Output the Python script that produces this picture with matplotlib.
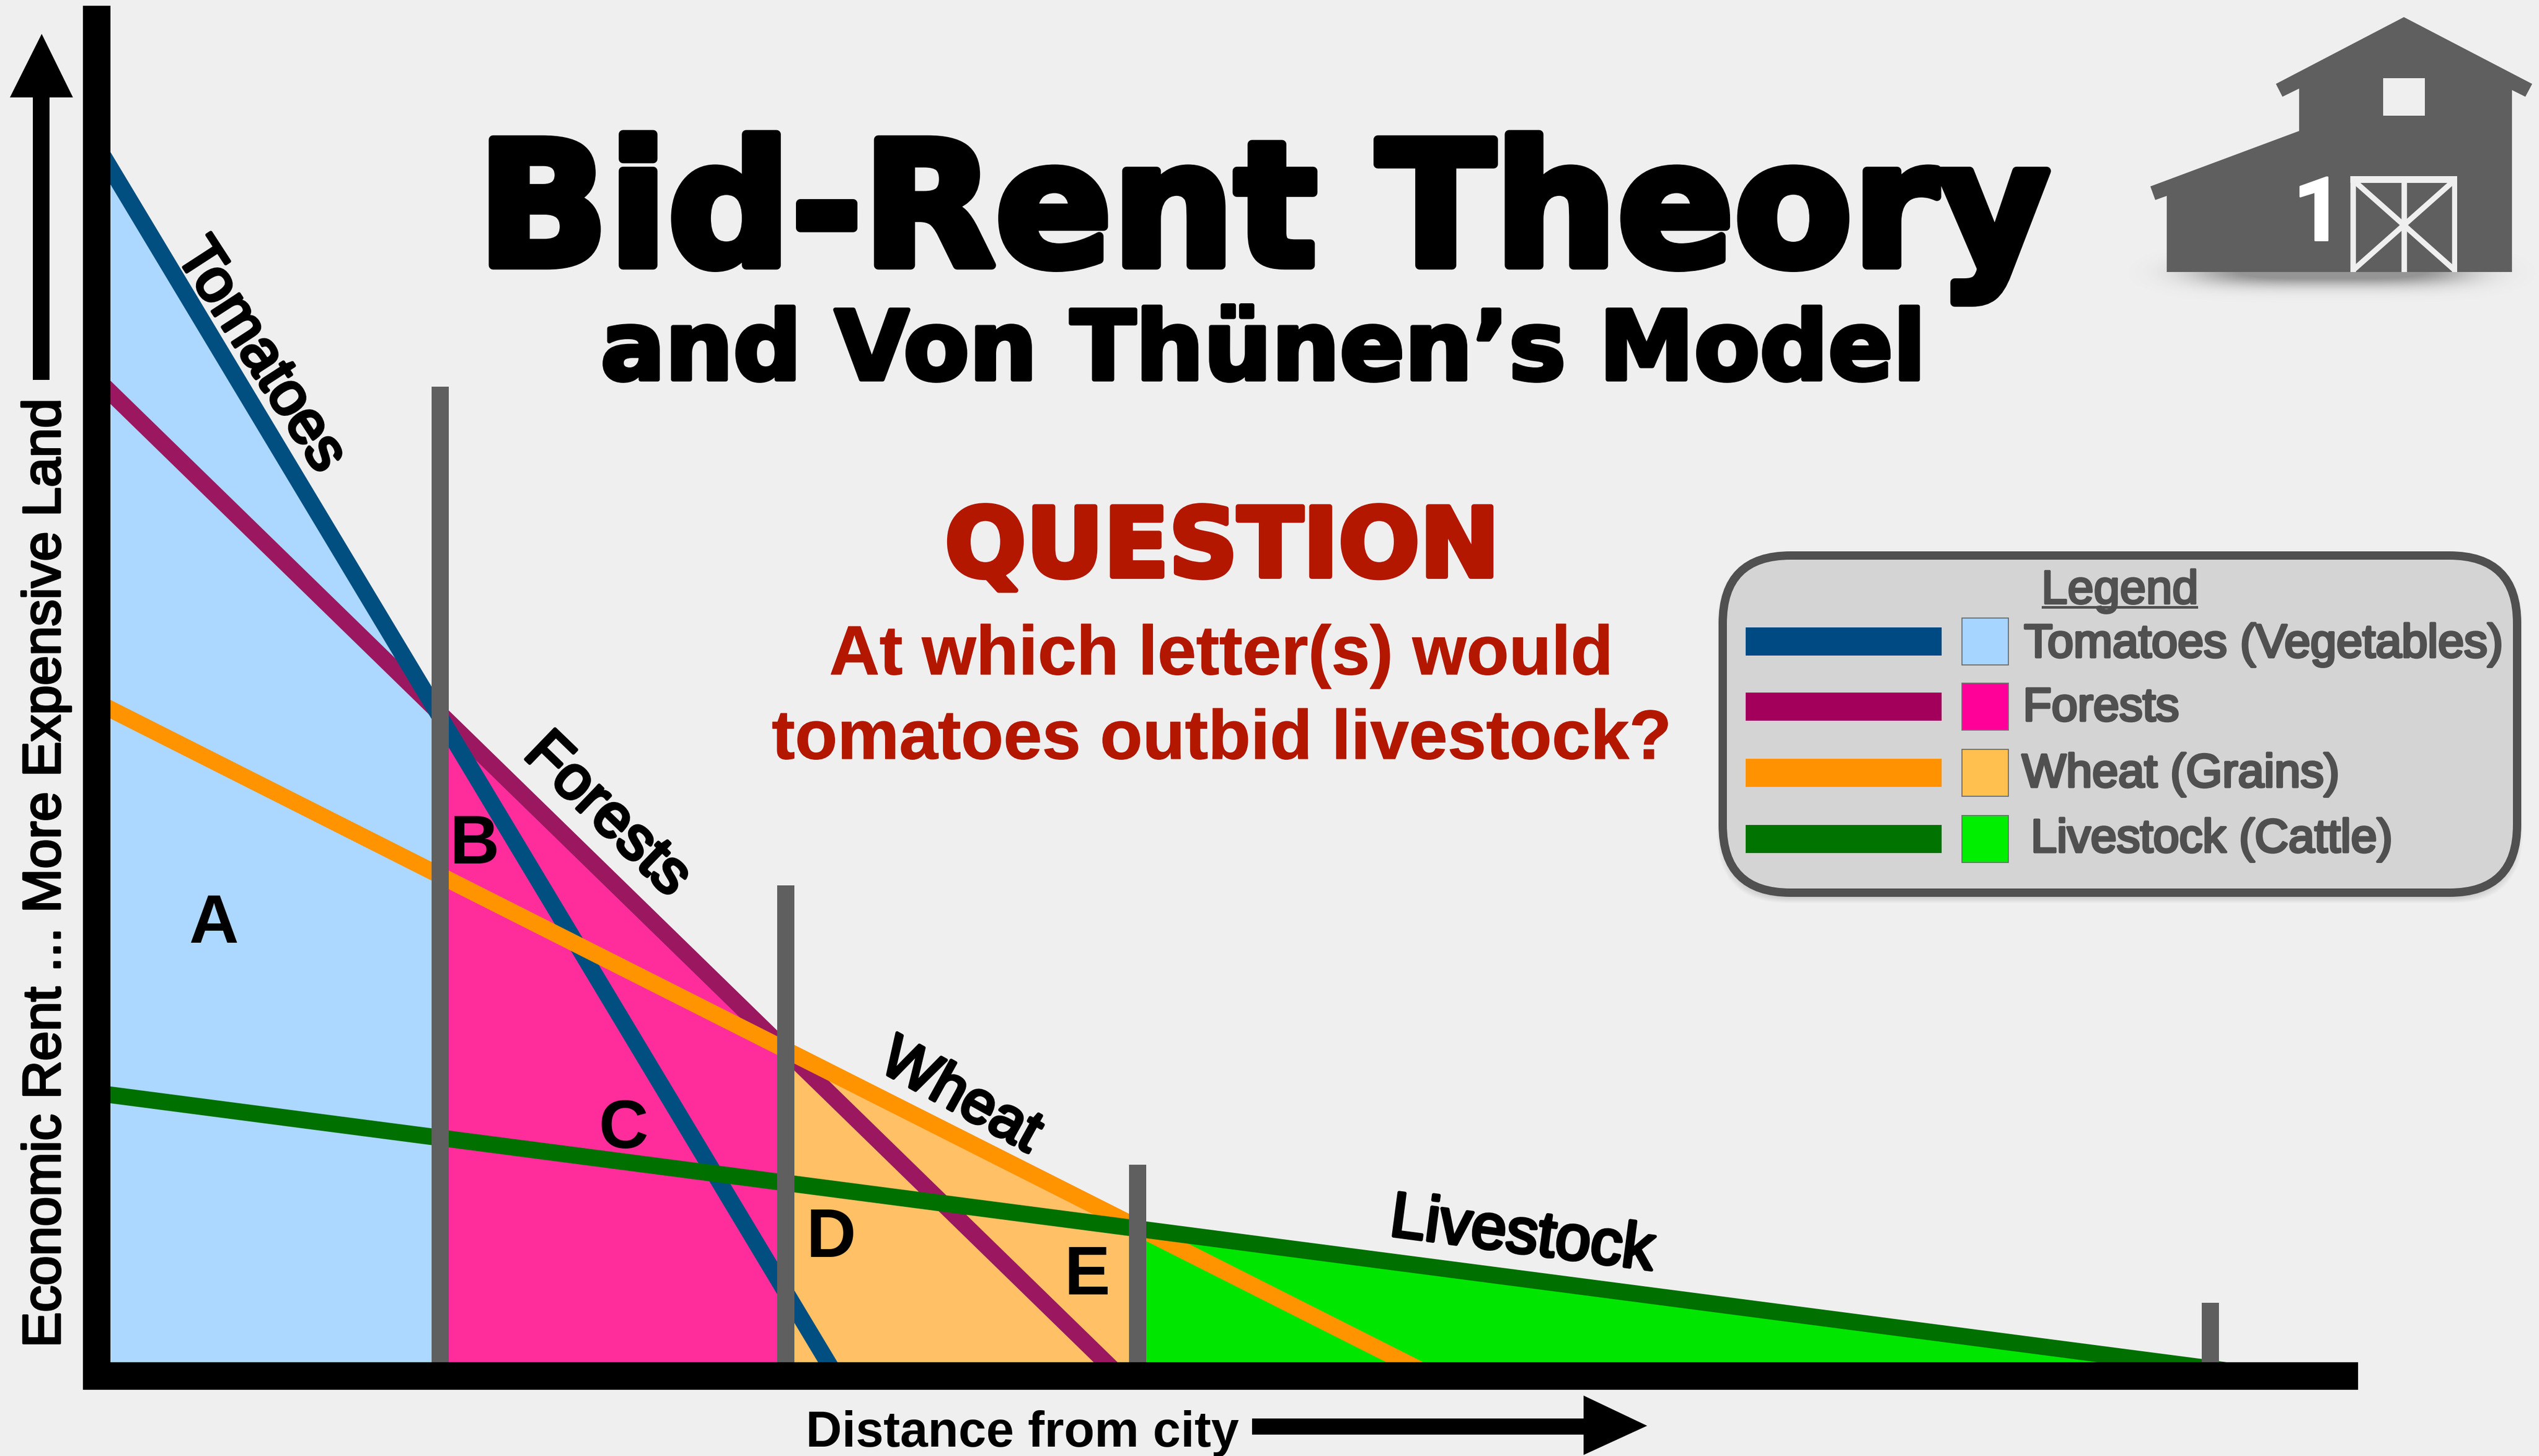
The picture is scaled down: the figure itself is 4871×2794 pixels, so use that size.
import numpy as np
import matplotlib
matplotlib.use("Agg")
import matplotlib.pyplot as plt
import matplotlib.patheffects as pe
from matplotlib.patches import FancyBboxPatch, Rectangle, Polygon

# ---------- data (distance and rent in chart units) ----------
crops = ["Tomatoes", "Forests", "Wheat", "Livestock"]
rent_at_city = [2291, 1861, 1253, 513]
zero_rent_distance = [1376, 1909, 2483, 3936]
zone_edges = [0, 623, 1296, 1971, 3936]
marker_distance = [633, 1296, 1971, 4029]
marker_height = [1872, 915, 379, 114]
legend_labels = ["Tomatoes (Vegetables)", "Forests", "Wheat (Grains)", "Livestock (Cattle)"]
letters = ["A", "B", "C", "D", "E"]

line_colors = ["#004f80", "#9b1860", "#ff9300", "#007000"]
zone_colors = ["#acd7ff", "#ff2d9c", "#ffc066", "#00e600"]
legend_line_colors = ["#004a84", "#a3005c", "#ff9200", "#007300"]
legend_swatch_colors = ["#a6d5ff", "#ff0099", "#ffc04f", "#00ee00"]
BG = "#efefef"
GREY = "#5f5f5f"
RED = "#b31700"
LEG = "#505050"

W, H = 4871, 2794
fig = plt.figure(figsize=(W / 100, H / 100), dpi=100, facecolor=BG)
ax = fig.add_axes([0, 0, 1, 1])
ax.set_xlim(-212, W - 212)
ax.set_ylim(-(H - 2614), 2614)
ax.axis("off")


def rent(i, x):
    return rent_at_city[i] * (1 - np.asarray(x, float) / zero_rent_distance[i])


# zones: each takes the highest bidder on its stretch of distance
for i in range(4):
    xs = np.array(zone_edges[i:i + 2], float)
    ax.fill_between(xs, 0, rent(i, xs), color=zone_colors[i], lw=0, zorder=1)

# bid-rent lines, in the reference's stacking order
for z, i in enumerate([1, 0, 2, 3]):
    slope = rent_at_city[i] / zero_rent_distance[i]
    xs = np.array([-30, zero_rent_distance[i] + 30 / slope])
    ax.plot(xs, rent(i, xs), color=line_colors[i], lw=32 * 0.72,
            solid_capstyle="butt", zorder=2 + z)

ax.bar(marker_distance, marker_height, width=33, bottom=0, color=GREY, lw=0, zorder=8)

# ---------- decoration layer in image pixels ----------
d = fig.add_axes([0, 0, 1, 1])
d.patch.set_alpha(0)
d.axis("off")


def stroke(w, c):
    return [pe.withStroke(linewidth=w, foreground=c)]


SANS = "Liberation Sans"
HEAVY = "DejaVu Sans"

# axes bars
d.add_patch(Rectangle((159, 11), 53, 2656, fc="k", lw=0, zorder=5))
d.add_patch(Rectangle((159, 2614), 4524 - 159, 53, fc="k", lw=0, zorder=5))

# arrows
d.add_patch(Polygon([(80, 65), (140, 187), (95, 187), (95, 729), (63, 729), (63, 187), (19, 187)],
                    fc="k", lw=0))
d.add_patch(Polygon([(2402, 2722), (3038, 2722), (3038, 2678), (3160, 2736), (3038, 2792),
                     (3038, 2753), (2402, 2753)], fc="k", lw=0))

# axis labels
d.text(115, 2586, "Economic Rent ... More Expensive Land", rotation=90, ha="left", va="baseline",
       rotation_mode="anchor", family=SANS, fontsize=73.5, color="k", path_effects=stroke(3, "k"))
d.text(1546, 2776, "Distance from city", ha="left", va="baseline", family=SANS,
       weight="bold", fontsize=69, color="k")

# titles
d.text(2424, 509, "Bid-Rent Theory", ha="center", va="baseline", family=HEAVY, weight="bold",
       fontsize=238, color="k", path_effects=stroke(12, "k"))
d.text(2424, 728, "and Von Thünen’s Model", ha="center", va="baseline", family=HEAVY, weight="bold",
       fontsize=132, color="k", path_effects=stroke(6, "k"))
d.text(2345, 1106, "QUESTION", ha="center", va="baseline", family=HEAVY, weight="bold",
       fontsize=132, color=RED, path_effects=stroke(7, RED))
d.text(2343, 1294, "At which letter(s) would", ha="center", va="baseline", family=SANS, weight="bold",
       fontsize=96, color=RED, path_effects=stroke(1, RED))
d.text(2344, 1456, "tomatoes outbid livestock?", ha="center", va="baseline", family=SANS, weight="bold",
       fontsize=96, color=RED, path_effects=stroke(1, RED))

# curve names
for name, (cx, cy), rot, fs in zip(crops,
                                   [(499, 683), (1164, 1565), (1842, 2106), (2920, 2372)],
                                   [-57.0, -44.0, -29.0, -7.5],
                                   [84, 85, 83, 88]):
    d.text(cx, cy, name, rotation=rot, rotation_mode="anchor", ha="center", va="center",
           family=SANS, fontsize=fs, color="k", path_effects=stroke(4.5, "k"))

# answer letters
for s, (cx, by_) in zip(letters, [(410, 1809), (910, 1657), (1196, 2203), (1594, 2412), (2085, 2484)]):
    d.text(cx, by_, s, ha="center", va="baseline", family=SANS, weight="bold", fontsize=95, color="k")

# legend
for k in range(12):
    d.add_patch(FancyBboxPatch((3305 - k, 1072 - k), 1524 + 2 * k, 1647 - 1072 + 75 + 2 * k,
                               boxstyle="round,pad=0,rounding_size=135", fc="k", alpha=0.012, lw=0))
d.add_patch(FancyBboxPatch((3305, 1066), 1524, 647, boxstyle="round,pad=0,rounding_size=130",
                           fc="#d4d4d4", ec=LEG, lw=16 * 0.72))
d.text(4067, 1158, "Legend", ha="center", va="baseline", family=SANS, fontsize=65, color=LEG,
       path_effects=stroke(3, LEG))
d.add_patch(Rectangle((3917, 1163), 300, 5, fc=LEG, lw=0))
for i, (cy, by_, tx) in enumerate(zip([1231, 1356, 1483, 1610], [1261, 1383, 1510, 1635],
                                      [3883, 3881, 3879, 3896])):
    d.add_patch(Rectangle((3349, cy - 27), 376, 54, fc=legend_line_colors[i], lw=0))
    d.add_patch(Rectangle((3764, cy - 45), 89, 90, fc=legend_swatch_colors[i], ec="#707070", lw=1.5))
    d.text(tx, by_, legend_labels[i], ha="left", va="baseline", family=SANS, fontsize=64.7, color=LEG,
           path_effects=stroke(3.5, LEG))


# barn (coordinates in a small local grid)
def bx(z):
    return 4050 + 0.5236 * np.asarray(z, float)


def by(z):
    return 0.357 * np.asarray(z, float)


yy, xx = np.mgrid[440:600:200j, 3950:4871:500j]
shade = np.clip(1.25 * np.exp(-((xx - 4474) / 260) ** 4 - ((yy - 522) / 26) ** 2), 0, 1) * 0.55
rgba = np.zeros(shade.shape + (4,))
rgba[..., :3] = 0.3
rgba[..., 3] = shade
d.imshow(rgba, extent=(3950, 4871, 600, 440), aspect="auto", zorder=0.5, interpolation="bilinear")

barn_x = [1073, 1543, 1518, 1469, 1469, 204, 204, 162, 144, 689, 689, 628, 604]
barn_y = [92, 451, 520, 484, 1462, 1462, 1053, 1075, 1002, 704, 476, 520, 451]
d.add_patch(Polygon(np.c_[bx(barn_x), by(barn_y)], fc=GREY, lw=0, zorder=1))
d.add_patch(Rectangle((bx(996), by(421)), bx(1150) - bx(996), by(623) - by(421), fc=BG, lw=0, zorder=2))
door = Rectangle((bx(877), by(946)), bx(1269) - bx(877), by(1462) - by(946), fc="none", lw=0, zorder=2)
d.add_patch(door)
for xs, ys, w in [([887, 887], [946, 1462], 10.5), ([1259, 1259], [946, 1462], 10.5),
                  ([877, 1269], [961, 961], 16), ([1073, 1073], [946, 1462], 10.5),
                  ([887, 1259], [968, 1452], 10.5), ([1259, 887], [968, 1452], 10.5)]:
    ln, = d.plot(bx(xs), by(ys), color=BG, lw=w * 0.72, solid_capstyle="butt", zorder=2)
    ln.set_clip_path(door)
d.text(bx(760), by(1293), "1", ha="center", va="baseline", family="Roboto", weight="bold",
       fontsize=123, color="white", zorder=3, path_effects=stroke(2, "white"))

d.set_xlim(0, W)
d.set_ylim(H, 0)

fig.savefig("out.png", dpi=100, facecolor=BG)
